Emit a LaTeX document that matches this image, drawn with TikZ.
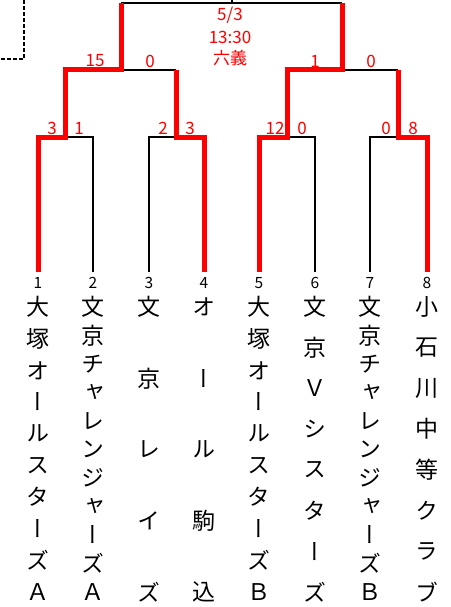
\documentclass[tikz,border=0pt]{standalone}
\usepackage{fontspec}
\setmainfont{Noto Sans CJK JP}
\newfontfamily\jpv{Noto Sans CJK JP}[RawFeature=+vert]
\definecolor{wred}{RGB}{255,0,0}
\tikzset{
  win/.style={draw=wred, line width=5pt, line join=miter},
  lose/.style={draw=black, line width=1.2pt},
  score/.style={text=wred, font=\fontsize{17}{17}\selectfont, inner sep=0pt},
  seed/.style={font=\fontsize{15.5}{15.5}\selectfont, inner sep=0pt},
  ch/.style={font=\jpv\fontsize{23}{23}\selectfont, inner sep=0pt},
  info/.style={text=wred, font=\fontsize{17}{17}\selectfont, inner sep=0pt},
}
\newcommand\teamcol[4]{%
  \foreach[count=\i] \c in {#4} {%
    \node[ch] (t#1-\i) at (#2, {307+(\i-1)*285/(#3-1)}) {\c};%
  }%
}
\begin{document}
\begin{tikzpicture}[x=1pt,y=-1pt]
\useasboundingbox (0,0) rectangle (450,607);
% previous bracket fragment
\draw[line width=1.6pt, dash pattern=on 4pt off 2pt] (24,0) -- (24,59) -- (0,59);

% leaf coordinates
\coordinate (L1) at (38,272);
\coordinate (L2) at (93,272);
\coordinate (L3) at (149,272);
\coordinate (L4) at (204,272);
\coordinate (L5) at (259,272);
\coordinate (L6) at (315,272);
\coordinate (L7) at (370,272);
\coordinate (L8) at (427,272);
% match points
\coordinate (Q1) at (65.5,137);
\coordinate (Q2) at (176,137);
\coordinate (Q3) at (287,137);
\coordinate (Q4) at (398,137);
\coordinate (S1) at (121,70);
\coordinate (S2) at (342,70);
\coordinate (F) at (232,3);
\coordinate (Ftop) at (232,0);

% losing (black) lines
\draw[lose] (L2) |- (Q1);
\draw[lose] (L3) |- (Q2);
\draw[lose] (L6) |- (Q3);
\draw[lose] (L7) |- (Q4);
\draw[lose] (Q2 |- S1) -- (S1);
\draw[lose] (Q4 |- S2) -- (S2);
\draw[lose] (S1 |- F) -- (S2 |- F);
\draw[lose] (F) -- (Ftop);

% winning (red) lines
\draw[win] (L1) |- (Q1) |- (S1) -- (S1 |- F);
\draw[win] (L4) |- (Q2) -- (Q2 |- S1);
\draw[win] (L5) |- (Q3) |- (S2) -- (S2 |- F);
\draw[win] (L8) |- (Q4) -- (Q4 |- S2);

% scores
\node[score] (s1a) at (52,128) {3};
\node[score] (s1b) at (79,128) {1};
\node[score] (s2a) at (163,128) {2};
\node[score] (s2b) at (190,128) {3};
\node[score] (s3a) at (275,128) {12};
\node[score] (s3b) at (302,128) {0};
\node[score] (s4a) at (386,128) {0};
\node[score] (s4b) at (413,128) {8};
\node[score] (sf1a) at (95,61) {15};
\node[score] (sf1b) at (150,61) {0};
\node[score] (sf2a) at (315,61) {1};
\node[score] (sf2b) at (371,61) {0};

% final info
\node[info] (date) at (230,15) {5/3};
\node[info] (time) at (230,37) {13:30};
\node[info] (place) at (230,58) {六義};

% seeds
\foreach \k in {1,...,8} { \node[seed] (n\k) at ([yshift=-11pt]L\k) {\k}; }

% team names
\teamcol{1}{38}{10}{大,塚,オ,ー,ル,ス,タ,ー,ズ,Ａ}
\teamcol{2}{93}{11}{文,京,チ,ャ,レ,ン,ジ,ャ,ー,ズ,Ａ}
\teamcol{3}{149}{5}{文,京,レ,イ,ズ}
\teamcol{4}{204}{5}{オ,ー,ル,駒,込}
\teamcol{5}{259}{10}{大,塚,オ,ー,ル,ス,タ,ー,ズ,Ｂ}
\teamcol{6}{315}{8}{文,京,Ｖ,シ,ス,タ,ー,ズ}
\teamcol{7}{370}{11}{文,京,チ,ャ,レ,ン,ジ,ャ,ー,ズ,Ｂ}
\teamcol{8}{427}{8}{小,石,川,中,等,ク,ラ,ブ}
\end{tikzpicture}
\end{document}
